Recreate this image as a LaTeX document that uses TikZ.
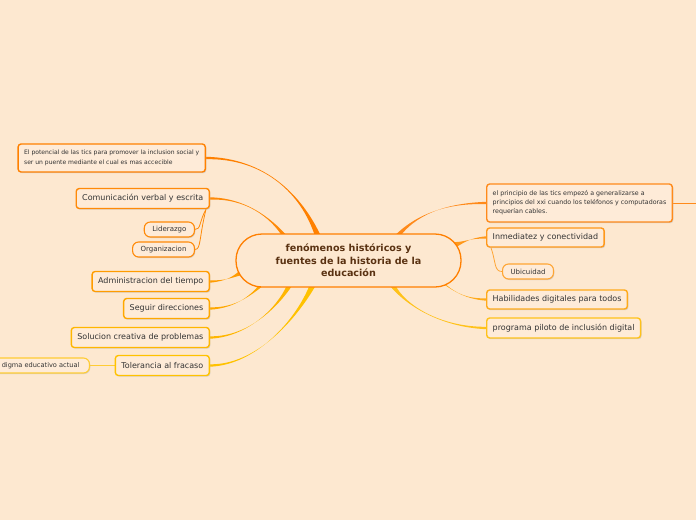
\documentclass[tikz,border=0pt]{standalone}
\usepackage{fontspec}
\setmainfont{DejaVu Sans}
\usetikzlibrary{shadows,calc}
\definecolor{bgc}{HTML}{FDE8D0}
\definecolor{boxf}{HTML}{FEEBD8}
\definecolor{txt}{HTML}{333333}
\definecolor{ctxt}{HTML}{5A3212}
\definecolor{cpot}{HTML}{FF8000}
\definecolor{ccom}{HTML}{FF8A08}
\definecolor{cadm}{HTML}{FF9C00}
\definecolor{cseg}{HTML}{FFA800}
\definecolor{csol}{HTML}{FFB600}
\definecolor{ctol}{HTML}{FFC200}
\definecolor{cdig}{HTML}{FFCC33}
\definecolor{cpri}{HTML}{FF8A1A}
\definecolor{cinm}{HTML}{FF981A}
\definecolor{cubi}{HTML}{FFA533}
\definecolor{chab}{HTML}{FFAA1A}
\definecolor{cpro}{HTML}{FFC21A}
\definecolor{ccen}{HTML}{FF7F00}
\pgfdeclarelayer{back}
\pgfdeclarelayer{links}
\pgfsetlayers{back,links,main}
\newcommand{\branch}[6]{\fill[#1] ($(#2)+(0,-1.2)$) .. controls (#3) and (#4) .. ($(#5)+(#6)$) -- ($(#5)-(#6)$) .. controls (#4) and (#3) .. ($(#2)+(0,1.2)$) -- cycle;}
\tikzset{
  topic/.style={draw=#1, fill=boxf, line width=1.4pt, rounded corners=3pt, text=txt,
    font=\fontsize{8}{9.5}\selectfont, inner xsep=6pt, minimum height=20pt,
    drop shadow={shadow xshift=1pt, shadow yshift=-1.2pt, fill=black!25, opacity=0.6}},
  note/.style={topic=#1, font=\fontsize{6.05}{9.5}\selectfont, align=left, inner xsep=6pt},
  sub/.style={draw=#1, fill=boxf, line width=1.1pt, rounded corners=6pt, text=txt,
    font=\fontsize{7}{8}\selectfont, inner xsep=8pt, minimum height=15pt,
    drop shadow={shadow xshift=0.8pt, shadow yshift=-1pt, fill=black!25, opacity=0.6}},
  thinlink/.style={draw=#1, line width=0.8pt}
}
\begin{document}
\begin{tikzpicture}[x=1pt,y=-1pt]
\begin{pgfonlayer}{back}
\fill[bgc] (0,0) rectangle (696,520);
\end{pgfonlayer}
\useasboundingbox (0,0) rectangle (696,520);

\node[draw=ccen, fill=bgc, line width=1.3pt, rounded corners=26pt, minimum width=225pt,
  minimum height=53pt, align=center, text=ctxt, font=\bfseries\fontsize{9.6}{12.5}\selectfont]
  (c) at (348.5,260.5) {fenómenos históricos y\\fuentes de la historia de la\\educación};

% left side
\node[note=cpot, minimum height=28pt, anchor=east] (pot) at (206,158)
  {El potencial de las tics para promover la inclusion social y\\ser un puente mediante el cual es mas accecible};
\node[topic=ccom, anchor=east] (com) at (210,198.5) {Comunicación verbal y escrita};
\node[sub=ccom, anchor=east] (lid) at (195,229.5) {Liderazgo};
\node[sub=ccom, anchor=east] (org) at (195,249.5) {Organizacion};
\node[topic=cadm, anchor=east] (adm) at (210,281.5) {Administracion del tiempo};
\node[topic=cseg, anchor=east] (seg) at (210,308.5) {Seguir direcciones};
\node[topic=csol, anchor=east] (sol) at (210,337.5) {Solucion creativa de problemas};
\node[topic=ctol, anchor=east] (tol) at (210,365.5) {Tolerancia al fracaso};
\node[sub=cdig, anchor=east, inner xsep=10pt, font=\fontsize{6.6}{8}\selectfont] (dig) at (90,365.5) {digma educativo actual};

% right side
\node[note=cpri, minimum height=38pt, anchor=west, font=\fontsize{6.3}{9}\selectfont] (pri) at (486,203)
  {el principio de las tics empezó a generalizarse a\\principios del xxi cuando los teléfonos y computadoras\\requerían cables.};
\node[topic=cinm, anchor=west, minimum height=19pt] (inm) at (486,237.5) {Inmediatez y conectividad};
\node[sub=cubi, anchor=west] (ubi) at (502,271.5) {Ubicuidad};
\node[topic=chab, anchor=west, minimum height=19pt] (hab) at (486,299.5) {Habilidades digitales para todos};
\node[topic=cpro, anchor=west] (pro) at (486,328) {programa piloto de inclusión digital};
\coordinate (off) at (700,203);

\begin{pgfonlayer}{links}
\branch{cpot}{pot.east}{265,158}{302,195}{$(c.north)+(-30.5,3)$}{3,0}
\branch{ccom}{com.east}{245,198}{270,217}{$(c.north)+(-63.5,3)$}{2.6,0}
\branch{cadm}{adm.east}{226,281}{233,277}{$(c.west)+(6,12)$}{1.2,2.4}
\branch{cseg}{seg.east}{236,308}{251,295}{$(c.south)+(-86.5,-3)$}{2.6,0}
\branch{csol}{sol.east}{246,337}{276,310}{$(c.south)+(-58.5,-3)$}{2.8,0}
\branch{ctol}{tol.east}{256,365}{296,320}{$(c.south)+(-35.5,-3)$}{3.2,0}
\branch{cpri}{pri.west}{455,203}{420,210}{$(c.north)+(48.5,3)$}{3,0}
\branch{cinm}{inm.west}{470,238}{465,242}{$(c.east)+(-6,-16)$}{0.8,2.4}
\branch{chab}{hab.west}{466,299}{455,292}{$(c.south)+(96.5,-3)$}{2.2,1}
\branch{cpro}{pro.west}{440,327}{405,305}{$(c.south)+(43.5,-3)$}{3,0}
\draw[thinlink=ccom] ($(com.south east)+(-4,0)$) .. controls (199,222) and (201,229.5) .. (lid.east);
\draw[thinlink=ccom] ($(com.south east)+(-4,0)$) .. controls (199,238) and (201,249.5) .. (org.east);
\draw[thinlink=cdig] (tol.west) -- (dig.east);
\draw[thinlink=cubi] ($(inm.south west)+(5,0)$) .. controls (496,262) and (494,271.5) .. (ubi.west);
\draw[thinlink=cpri] (pri.east) -- (off);
\end{pgfonlayer}
\end{tikzpicture}
\end{document}
